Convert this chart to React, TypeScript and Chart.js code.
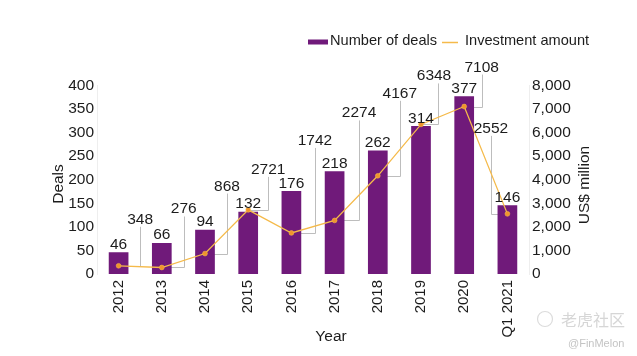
import React, { useEffect, useRef } from "react";
import { Chart, registerables } from "chart.js";

Chart.register(...registerables);

// ---- data ----
const categories = ["2012", "2013", "2014", "2015", "2016", "2017", "2018", "2019", "2020", "Q1 2021"];
const dealCounts = [46, 66, 94, 132, 176, 218, 262, 314, 377, 146];
const investmentAmounts = [348, 276, 868, 2721, 1742, 2274, 4167, 6348, 7108, 2552];
const dealAxisMax = 400;
const dealAxisStep = 50;
const amountAxisMax = 8000;
const amountAxisStep = 1000;

const seriesNames = ["Number of deals", "Investment amount"];
const axisTitles = { x: "Year", left: "Deals", right: "US$ million" };

// ---- layout of the callout labels for the investment amounts (pixel offsets from each point) ----
// [leader x offset, label baseline y offset, label x shift]
const amountCalloutOffsets: [number, number, number][] = [
  [21.5, -42, 0],
  [22, -54, 0],
  [22, -63, 0],
  [20, -36, 0],
  [23.5, -88, 0],
  [24.5, -103, 0],
  [22, -78, 0],
  [17, -44, -4],
  [17.5, -35, 0],
  [-16.5, -81, 0],
];

const FONT = "'Liberation Sans', Arial, Helvetica, sans-serif";
const PURPLE = "#701A7A";
const LINE_COLOR = "#F5BA4A";
const POINT_COLOR = "#F0942C";
const TEXT = "#1c1c1c";
const LEADER = "#bdbdbd";

const decorPlugin = {
  id: "decor",
  beforeDatasetsDraw(chart: any) {
    const ctx = chart.ctx as CanvasRenderingContext2D;
    const meta = chart.getDatasetMeta(0);
    ctx.save();
    ctx.strokeStyle = LEADER;
    ctx.lineWidth = 1;
    meta.data.forEach((pt: any, i: number) => {
      const [dx, dy] = amountCalloutOffsets[i];
      const lx = Math.round(pt.x + dx) + 0.5;
      const ly = Math.round(pt.y) + 0.5;
      const top = pt.y + dy + 3;
      ctx.beginPath();
      ctx.moveTo(pt.x, ly);
      ctx.lineTo(lx, ly);
      ctx.lineTo(lx, top);
      ctx.stroke();
    });
    ctx.restore();
  },
  afterDatasetsDraw(chart: any) {
    const ctx = chart.ctx as CanvasRenderingContext2D;
    const lineMeta = chart.getDatasetMeta(0);
    const barMeta = chart.getDatasetMeta(1);
    ctx.save();
    ctx.fillStyle = TEXT;
    ctx.font = `15.5px ${FONT}`;
    ctx.textAlign = "center";
    ctx.textBaseline = "alphabetic";
    barMeta.data.forEach((bar: any, i: number) => {
      ctx.fillText(String(dealCounts[i]), bar.x, bar.y - 3.5);
    });
    lineMeta.data.forEach((pt: any, i: number) => {
      const [dx, dy, shift] = amountCalloutOffsets[i];
      ctx.fillText(String(investmentAmounts[i]), pt.x + dx + shift, pt.y + dy);
    });
    ctx.restore();
  },
  afterDraw(chart: any) {
    const ctx = chart.ctx as CanvasRenderingContext2D;
    ctx.save();
    // legend
    ctx.fillStyle = PURPLE;
    ctx.fillRect(308, 39.5, 20, 5);
    ctx.fillStyle = TEXT;
    ctx.font = `14.6px ${FONT}`;
    ctx.textAlign = "left";
    ctx.textBaseline = "alphabetic";
    ctx.fillText(seriesNames[0], 330, 45);
    ctx.strokeStyle = LINE_COLOR;
    ctx.lineWidth = 1.5;
    ctx.beginPath();
    ctx.moveTo(442, 42.5);
    ctx.lineTo(458, 42.5);
    ctx.stroke();
    ctx.fillText(seriesNames[1], 465, 45);

    // axis titles
    ctx.font = `15.5px ${FONT}`;
    ctx.textAlign = "center";
    ctx.fillText(axisTitles.x, 331, 340.5);
    ctx.save();
    ctx.translate(63, 184);
    ctx.rotate(-Math.PI / 2);
    ctx.fillText(axisTitles.left, 0, 0);
    ctx.restore();
    ctx.save();
    ctx.translate(589, 185);
    ctx.rotate(-Math.PI / 2);
    ctx.fillText(axisTitles.right, 0, 0);
    ctx.restore();

    // watermark
    ctx.strokeStyle = "#dcdcdc";
    ctx.lineWidth = 1.2;
    ctx.beginPath();
    ctx.arc(545, 319, 7.5, 0, Math.PI * 2);
    ctx.stroke();
    ctx.fillStyle = "#d6d6d6";
    ctx.font = `16px 'Noto Sans CJK SC', sans-serif`;
    ctx.textAlign = "left";
    ctx.fillText("老虎社区", 561, 326);
    ctx.fillStyle = "#c4c4c4";
    ctx.font = `11px ${FONT}`;
    ctx.fillText("@FinMelon", 568, 347);
    ctx.restore();
  },
};

export default function App() {
  const ref = useRef<HTMLCanvasElement>(null);

  useEffect(() => {
    if (!ref.current) return;
    const chart = new Chart(ref.current, {
      type: "bar",
      data: {
        labels: categories,
        datasets: [
          {
            type: "line",
            label: seriesNames[1],
            data: investmentAmounts,
            yAxisID: "y1",
            order: 0,
            borderColor: LINE_COLOR,
            borderWidth: 1.3,
            backgroundColor: POINT_COLOR,
            pointRadius: 2.4,
            pointBackgroundColor: POINT_COLOR,
            pointBorderColor: LINE_COLOR,
            pointBorderWidth: 0.6,
            tension: 0,
            fill: false,
          } as any,
          {
            type: "bar",
            label: seriesNames[0],
            data: dealCounts,
            yAxisID: "y",
            order: 1,
            backgroundColor: PURPLE,
            borderWidth: 0,
            barPercentage: 0.456,
            categoryPercentage: 1,
          } as any,
        ],
      },
      options: {
        responsive: false,
        animation: false,
        devicePixelRatio: 1,
        layout: { padding: { top: 85.5, left: 0, right: 0, bottom: 0 } },
        plugins: {
          legend: { display: false },
          tooltip: { enabled: false },
        },
        scales: {
          x: {
            type: "category",
            grid: { display: false, drawTicks: false },
            border: { display: false },
            ticks: {
              autoSkip: false,
              maxRotation: 90,
              minRotation: 90,
              padding: 6,
              color: TEXT,
              font: { family: FONT, size: 15 },
            },
            afterFit: (s: any) => {
              s.height = 82;
            },
          },
          y: {
            position: "left",
            min: 0,
            max: dealAxisMax,
            grid: { display: false, drawTicks: false },
            border: { display: true, color: "#eeeeee", width: 1 },
            ticks: {
              stepSize: dealAxisStep,
              autoSkip: false,
              padding: 3,
              color: TEXT,
              font: { family: FONT, size: 15.5 },
            },
            afterFit: (s: any) => {
              s.width = 97;
            },
          },
          y1: {
            position: "right",
            min: 0,
            max: amountAxisMax,
            grid: { display: false, drawTicks: false },
            border: { display: true, color: "#eeeeee", width: 1 },
            ticks: {
              stepSize: amountAxisStep,
              autoSkip: false,
              padding: 3,
              color: TEXT,
              font: { family: FONT, size: 15.5 },
              callback: (v: any) => Number(v).toLocaleString("en-US"),
            },
            afterFit: (s: any) => {
              s.width = 108;
            },
          },
        },
      },
      plugins: [decorPlugin],
    });
    return () => chart.destroy();
  }, []);

  return (
    <div style={{ position: "fixed", left: 0, top: 0, width: 637, height: 356, background: "#fff" }}>
      <canvas ref={ref} width={637} height={356} style={{ display: "block", width: 637, height: 356 }} />
    </div>
  );
}
